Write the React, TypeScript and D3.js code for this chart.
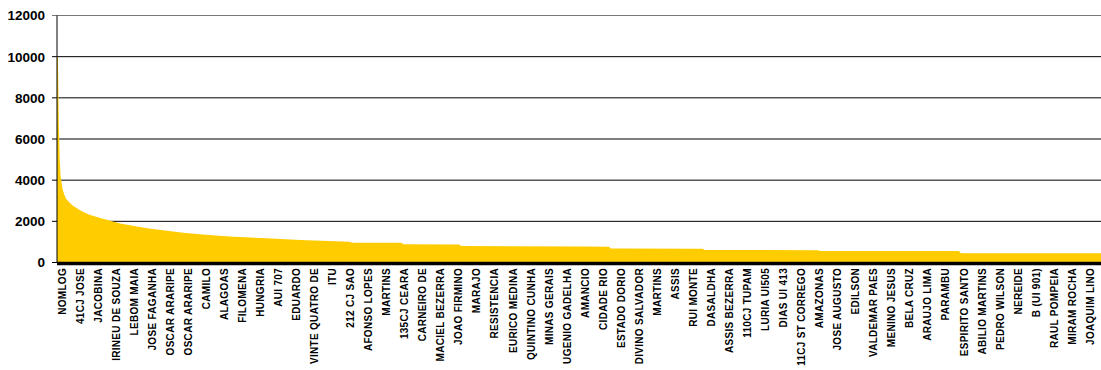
import React from "react";
import * as d3 from "d3";

const yTicks = [0, 2000, 4000, 6000, 8000, 10000, 12000];

const labels = [
  "NOMLOG", "41CJ JOSE", "JACOBINA", "IRINEU DE SOUZA", "LEBOM MAIA", "JOSE FAGANHA",
  "OSCAR ARARIPE", "OSCAR ARARIPE", "CAMILO", "ALAGOAS", "FILOMENA", "HUNGRIA",
  "AUI 707", "EDUARDO", "VINTE QUATRO DE", "ITU", "212 CJ SAO", "AFONSO LOPES",
  "MARTINS", "135CJ CEARA", "CARNEIRO DE", "MACIEL BEZERRA", "JOAO FIRMINO", "MARAJO",
  "RESISTENCIA", "EURICO MEDINA", "QUINTINO CUNHA", "MINAS GERAIS", "UGENIO GADELHA",
  "AMANCIO", "CIDADE RIO", "ESTADO DORIO", "DIVINO SALVADOR", "MARTINS", "ASSIS",
  "RUI MONTE", "DASALDHA", "ASSIS BEZERRA", "110CJ TUPAM", "LURIA UI505", "DIAS UI 413",
  "11CJ ST CORREGO", "AMAZONAS", "JOSE AUGUSTO", "EDILSON", "VALDEMAR PAES",
  "MENINO JESUS", "BELA CRUZ", "ARAUJO LIMA", "PARAMBU", "ESPIRITO SANTO",
  "ABILIO MARTINS", "PEDRO WILSON", "NEREIDE", "B (UI 901)", "RAUL POMPEIA",
  "MIRAM ROCHA", "JOAQUIM LINO",
];

// category index (one label every 10 categories) and value
const sampleIndex = [
  0, 0.5, 1, 1.5, 2, 3, 4, 5, 7, 9, 11, 14, 18, 24, 29, 35, 42, 51, 61, 70, 79, 88, 98,
  116, 135, 162, 164, 191, 192, 223, 224, 290, 306, 307, 358, 359, 422, 423, 500, 501, 579,
];
const sampleValue = [
  10000, 10000, 6800, 5000, 4200, 3600, 3300, 3100, 2900, 2750, 2640, 2480, 2320, 2160,
  2040, 1900, 1790, 1650, 1540, 1450, 1375, 1310, 1255, 1175, 1090, 1010, 965, 960, 885,
  880, 805, 775, 765, 675, 665, 610, 600, 560, 555, 450, 445,
];

const LABEL_EVERY = 10;
const N = labels.length * LABEL_EVERY;

export default function App() {
  const W = 1101;
  const H = 370;
  const left = 57;
  const right = 57 + N * 1.804;
  const top = 15.5;
  const bottom = 262.5;

  const x = d3.scaleLinear().domain([0, N]).range([left, right]);
  const y = d3.scaleLinear().domain([0, 12000]).range([bottom, top]);

  const pts = sampleIndex.map((d, i) => [d, sampleValue[i]] as [number, number]);
  const area = d3
    .area<[number, number]>()
    .x((d) => x(d[0]))
    .y0(y(0))
    .y1((d) => y(d[1]))
    .curve(d3.curveLinear);

  return (
    <svg
      width={W}
      height={H}
      style={{ position: "absolute", left: 0, top: 0, background: "#fff" }}
      fontFamily="'Liberation Sans', Arial, sans-serif"
    >
      {yTicks.map((t) => (
        <g key={t}>
          <line
            x1={left - 5}
            x2={W}
            y1={y(t)}
            y2={y(t)}
            stroke={t === 12000 ? "#777" : "#000"}
            strokeWidth={1}
          />
          <text
            x={45}
            y={y(t)}
            dy="0.36em"
            textAnchor="end"
            fontSize={13.5}
            fontWeight="bold"
            fill="#000"
          >
            {t}
          </text>
        </g>
      ))}
      <path d={area(pts) || ""} fill="#FFCC00" />
      <line x1={left} x2={left} y1={top} y2={bottom} stroke="#000" strokeWidth={1} />
      <line x1={left} x2={W} y1={bottom + 1} y2={bottom + 1} stroke="#000" strokeWidth={3.5} />
      {labels.map((l, i) => {
        const lx = x(i * LABEL_EVERY) + 5;
        return (
          <text
            key={i}
            transform={`translate(${lx},${268}) rotate(-90)`}
            textAnchor="end"
            dy="0.35em"
            fontSize={10}
            fontWeight="bold"
            letterSpacing={0.3}
            fill="#000"
          >
            {l}
          </text>
        );
      })}
    </svg>
  );
}
